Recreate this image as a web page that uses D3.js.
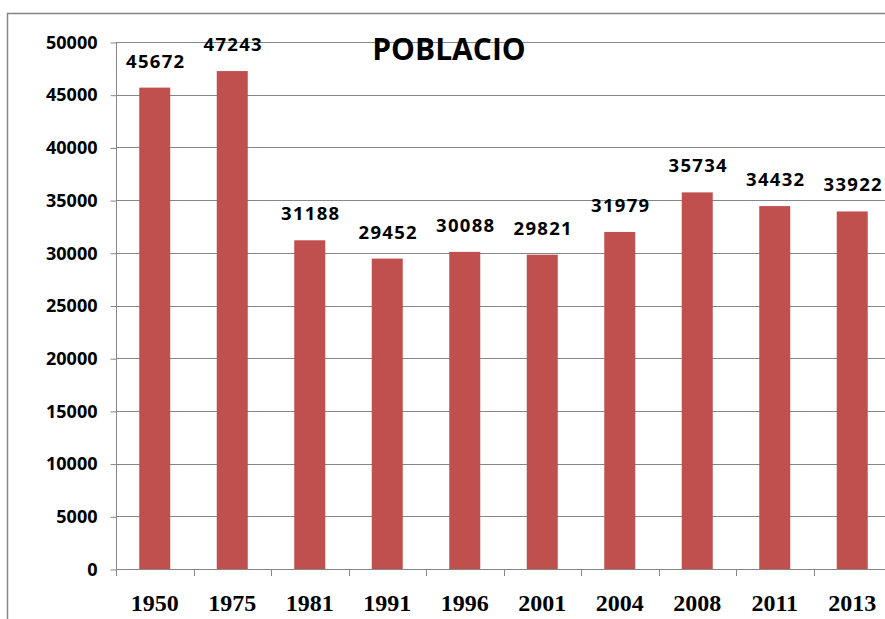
<!DOCTYPE html>
<html>
<head>
<meta charset="utf-8">
<script src="https://cdn.jsdelivr.net/npm/d3@7"></script>
<style>
  body { margin: 0; background: #fff; }
  svg { display: block; }
</style>
</head>
<body>
<svg id="chart"></svg>
<script>
var years = ['1950', '1975', '1981', '1991', '1996', '2001', '2004', '2008', '2011', '2013'];
var population = [45672, 47243, 31188, 29452, 30088, 29821, 31979, 35734, 34432, 33922];
var yTicks = [0, 5000, 10000, 15000, 20000, 25000, 30000, 35000, 40000, 45000, 50000];

var W = 885, H = 619;
var left = 116, right = 891, top0 = 42, bottom = 569;
var barColor = '#c0504d',
    gridColor = '#868686';

var svg = d3.select('#chart')
            .attr('width', W)
            .attr('height', H);

// outer frame (only top and left edges visible)
svg.append('path')
   .attr('d', 'M7.5,' + H + 'V13.5H' + W)
   .attr('fill', 'none')
   .attr('stroke', gridColor)
   .attr('stroke-width', 1.5);

var x = d3.scaleBand()
          .domain(years)
          .range([left, right])
          .paddingInner(0.6)
          .paddingOuter(0.3);

var y = d3.scaleLinear()
          .domain([0, 50000])
          .range([bottom, top0]);

// gridlines
svg.append('g')
   .selectAll('line')
   .data(yTicks.filter(d => d > 0))
   .enter().append('line')
   .attr('x1', left)
   .attr('x2', W)
   .attr('y1', d => Math.round(y(d)) + 0.5)
   .attr('y2', d => Math.round(y(d)) + 0.5)
   .attr('stroke', gridColor)
   .attr('stroke-width', 1);

// y axis
var yAxis = svg.append('g')
               .attr('transform', 'translate(' + (left + 0.5) + ',0.5)')
               .call(d3.axisLeft(y).tickValues(yTicks).tickSize(6).tickPadding(13).tickFormat(d3.format('d')));
yAxis.selectAll('line, path').attr('stroke', gridColor);
yAxis.select('.domain').attr('d', 'M0,' + y(50000) + 'V' + y(0));
yAxis.selectAll('text')
     .attr('font-family', '"Open Sans", "DejaVu Sans", sans-serif')
     .attr('font-weight', 'bold')
     .attr('font-size', '18px')
     .attr('fill', '#000');

// bars
svg.append('g')
   .selectAll('rect')
   .data(years)
   .enter().append('rect')
   .attr('x', d => x(d))
   .attr('width', x.bandwidth())
   .attr('y', (d, i) => y(population[i]))
   .attr('height', (d, i) => y(0) - y(population[i]))
   .attr('fill', barColor);

// x axis
var step = x.step();
var xAxis = svg.append('g');
xAxis.append('line')
     .attr('x1', left).attr('x2', W)
     .attr('y1', bottom + 0.5).attr('y2', bottom + 0.5)
     .attr('stroke', gridColor);
xAxis.selectAll('line.tick')
     .data(d3.range(years.length + 1))
     .enter().append('line')
     .attr('class', 'tick')
     .attr('x1', i => Math.round(left + i * step) + 0.5)
     .attr('x2', i => Math.round(left + i * step) + 0.5)
     .attr('y1', bottom)
     .attr('y2', bottom + 7)
     .attr('stroke', gridColor);
xAxis.selectAll('text')
     .data(years)
     .enter().append('text')
     .attr('x', d => x(d) + x.bandwidth() / 2)
     .attr('y', 611)
     .attr('text-anchor', 'middle')
     .attr('font-family', '"Liberation Serif", "Times New Roman", serif')
     .attr('font-weight', 'bold')
     .attr('font-size', '24px')
     .text(d => d);

// value labels
svg.append('g')
   .selectAll('text')
   .data(years)
   .enter().append('text')
   .attr('x', d => x(d) + x.bandwidth() / 2 + 1)
   .attr('y', (d, i) => y(population[i]) - 20)
   .attr('text-anchor', 'middle')
   .attr('font-family', '"Open Sans", "DejaVu Sans", sans-serif')
   .attr('font-weight', 'bold')
   .attr('font-size', '18.5px')
   .attr('letter-spacing', '1.3px')
   .text((d, i) => population[i]);

// title
svg.append('text')
   .attr('x', 449)
   .attr('y', 60)
   .attr('text-anchor', 'middle')
   .attr('font-family', '"Open Sans", "DejaVu Sans", sans-serif')
   .attr('font-weight', 'bold')
   .attr('font-size', '30px')
   .text('POBLACIO');
</script>
</body>
</html>
